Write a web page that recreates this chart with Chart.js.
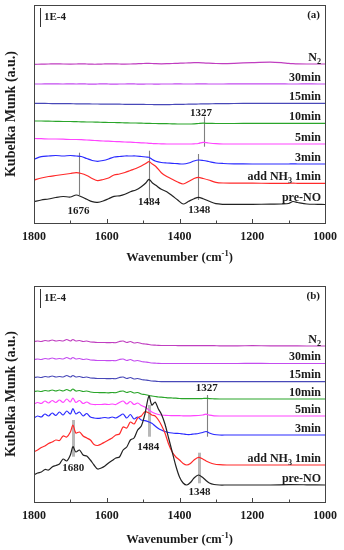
<!DOCTYPE html>
<html>
<head>
<meta charset="utf-8">
<script src="https://cdn.jsdelivr.net/npm/chart.js@4.4.1/dist/chart.umd.min.js"></script>
<style>
    body { margin: 0; background: #fff; }
    .panel { position: absolute; left: 0; width: 344px; height: 275px; }
</style>
</head>
<body>
<div class="panel" style="top:0"><canvas id="chartA"></canvas></div>
<div class="panel" style="top:275px"><canvas id="chartB"></canvas></div>
<script>
// wavenumber grids (cm-1)
const wnA = [1800,1780,1760,1740,1720,1700,1684,1670,1655,1640,1625,1610,1595,1580,1565,1550,1535,1520,1505,1492,1484,1475,1465,1450,1435,1420,1405,1390,1375,1360,1348,1335,1320,1300,1280,1250,1200,1150,1120,1100,1088,1075,1050,1020,1000];
const wnB = [1800,1790,1780,1770,1760,1750,1740,1730,1720,1710,1700,1693,1685,1675,1665,1655,1645,1635,1625,1615,1605,1595,1585,1575,1565,1555,1545,1535,1525,1515,1505,1495,1484,1476,1467,1458,1450,1440,1430,1420,1410,1400,1390,1380,1370,1360,1348,1336,1327,1318,1305,1290,1270,1240,1200,1150,1100,1050,1000];
const xTicks = [1800, 1600, 1400, 1200, 1000];

const seriesNames = ['pre-NO', 'add NH_3 1min', '3min', '5min', '10min', '15min', '30min', 'N_2'];
const seriesColors = ['#222222', '#ff2a2a', '#2a2aff', '#ff44ff', '#2aa52a', '#4848b8', '#c44cf0', '#c03ec0'];

// panel (a), stacked Kubelka-Munk values (a.u., offset included)
const preNO_A = [20.3,22,23,24.5,25.5,25,27,25.3,22.7,20.3,19.7,21,23.3,25.7,26.2,27.7,30.3,32,35.3,39.3,42.7,39.3,36.7,32.7,30.3,26.3,22,18,20.7,23.3,24.7,23.3,21,18.3,17.7,17.7,17.7,17.8,18,18.5,20.5,19.5,18,17.7,17.5];
const nh3_A = [42,44,45.5,46.5,47.5,48.5,49.3,48.5,46.5,43.5,41.3,42.5,44,47,48,49.5,51.5,53.5,56,58.7,60.3,58,55.5,49.3,45.5,42.7,40,38,40.5,43.5,44.7,43.5,42,39.7,39,38.8,38.8,38.7,38.7,38.7,38.8,38.7,38.7,38.7,38.7];
const min3_A = [62.7,65.3,66,66.5,66,66.5,66,65.5,63.5,61.5,60.7,61.5,63,65,65.5,66,66,66,65.5,65,64.7,62.5,60.7,59.5,59,58.7,58.3,58,59,61,62,61.5,60.5,59,58.5,58.2,58,58,58,58,58.2,58,58,58,58];
const min5_A = [83.5,83.3,83,83,82.8,82.5,82.5,82.3,82,81.7,81.3,81,80.8,80.5,80.3,80,79.8,79.5,79.2,79,78.7,78.5,78.3,78.2,78,78,78,78,78,78.2,78.5,79.7,79,78.3,78,78,78,78,78,78,78,78,78,78,78];
const min10_A = [101,101,100.8,100.7,100.5,100.5,100.3,100.2,100,100,99.8,99.7,99.5,99.5,99.3,99.2,99,99,98.8,98.7,98.6,98.5,98.5,98.4,98.3,98.2,98,98,98,98.2,98.5,98.8,98.6,98.5,98.5,98.5,98.6,98.7,98.7,98.7,98.7,98.7,98.7,98.7,98.7];
const min15_A = [118.7,118.6,118.5,118.4,118.3,118.3,118.2,118.2,118.1,118,118,117.9,117.9,117.8,117.8,117.7,117.7,117.6,117.6,117.5,117.5,117.5,117.4,117.4,117.4,117.5,117.6,117.7,117.8,117.9,118,118.1,118.2,118.3,118.4,118.5,118.6,118.6,118.7,118.7,118.7,118.6,118.6,118.7,118.7];
const min30_A = [138,138,138.2,138.1,138,138.2,138,138.1,138,137.9,138,138.1,138,137.9,138,138,138.1,138,137.9,138,138,138,137.9,138,138,138,138.1,138,138,138,138.2,138.1,138,138,138,138.1,138.2,138.2,138.1,138,138,138,138.1,138,138];
const n2_A = [157.7,157.8,158,158.2,158,157.9,158,158.2,158,157.8,157.8,158,158.2,158.1,158,157.9,158,158.2,158.4,158.6,158.6,158.5,158.3,158.2,158.3,158.5,158.7,158.9,159.1,159.3,159.3,159.1,158.8,158.5,158.4,158.7,159.4,159.8,159.3,158.6,158.3,158.1,158,158,158];

// panel (b)
const preNO_B = [27,29,30,32.5,32,35,36.5,38,43,41,47,55.3,50,52,47,46,42,37,33,34,36,39,41.5,44,45,52,55,62,64,72,76,88,106,97,100,93,88,78,64,50,36,25,19,17,19.5,24,27,24.5,21.5,19,17.5,17,17,17,17,17,17.3,17.2,17];
const nh3_B = [50.3,52,54.5,56,58.5,60,62,61.5,66,65,70,77,69,70,66,64,62,57.5,56.5,58,60,62,64,67,68,75,74,80,78,84,86,90.3,89,87,86,82,77,69,58,50,45,42,38.5,37,38.5,42,44.7,43,41,39.5,38,37.3,37,37,37,37,37,37,37];
const min3_B = [84,86,85,88,86,89,86.5,90,87,91,88,93.5,88,90,86,88.5,85,84,83.7,84,84.5,84,85,84,86,88,84,87.5,83,85,82,81.3,80,78.7,76,73.5,72,70.5,69.5,69,68.7,68.5,68,67.5,67.5,68,68.5,69.5,70.5,69,67.5,67,67,67,67,67,67,67,67];
const min5_B = [98,99.5,98.5,101,99,101.5,99.5,102,99.5,103,100,104,99.5,101.5,98.5,100,98,97.5,97.5,97.5,97.8,97.5,98,97.5,99.5,101,98,100.5,97.5,99,96.5,95,92,90,88.5,87.5,87,86.7,86.5,86.4,86.3,86.3,86.2,86.2,86.2,86.3,86.5,87,87.8,86.8,86.2,86,86,86,86,86,86,86,86];
const min10_B = [110.5,111,110.5,111.5,111,112,111,112,111,112.5,111,113,111,111.5,110.5,111,110,109.5,109.5,109.3,109.3,109.2,109.5,109.3,110.5,111,109.5,110.5,109,109.5,108,107.5,106.5,106,105.5,105,104.8,104.5,104.2,104,103.8,103.5,103.3,103.3,103.3,103.3,103.3,103.5,103.7,103.4,103.2,103,103,103,103,103,103,103,103];
const min15_B = [124.5,125,124.5,125.5,125,126,125,125.5,125,126.5,125,126.5,125,125.5,124.5,125,124,123.8,123.5,123.5,123.5,123.3,123.5,123.3,124.5,125,123.5,124.5,123,123.5,122.5,122,121.5,121,120.8,120.5,120.4,120.4,120.3,120.3,120.3,120.3,120.3,120.3,120.3,120.3,120.3,120.4,120.4,120.3,120.3,120.3,120.3,120.3,120.4,120.3,120.3,120.3,120.3];
const min30_B = [142.5,143,142.5,143.5,143,144,143,143.5,143,144.5,143,144.5,143,143.5,142.5,143,142,141.8,141.5,141.5,141.5,141.3,141.5,141.3,142.5,143,141.5,142.5,141,141.5,140.5,140,139.5,139,138.8,138.6,138.5,138.5,138.5,138.5,138.5,138.5,138.5,138.5,138.5,138.5,138.5,138.5,138.5,138.5,138.5,138.5,138.5,138.5,138.6,138.5,138.5,138.5,138.5];
const n2_B = [160.5,161,160.5,161.5,161,162,161,161.5,161,162.5,161,162.5,161,161.5,160.5,161,160,159.8,159.5,159.5,159.5,159.3,159.5,159.3,160.5,161,159.5,160.5,159,159.5,158.5,158,157.5,157,156.8,156.6,156.5,156.5,156.5,156.5,156.5,156.4,156.4,156.4,156.4,156.3,156.3,156.3,156.3,156.3,156.3,156.2,156.2,156.2,156.3,156.2,156.1,156,156];

// peak markers: wavenumber of line, y range, label position
const marksA = [
    { at: 1675, from: 27, to: 69.3, textAt: 1678, textY: 11, text: '1676' },
    { at: 1484, from: 23, to: 71.3, textAt: 1484, textY: 20.3, text: '1484' },
    { at: 1348, from: 22, to: 68, textAt: 1346, textY: 12, text: '1348' },
    { at: 1333, from: 75.3, to: 105.3, textAt: 1341, textY: 109.3, text: '1327' }
];
const marksB = [
    { at: 1692, from: 45.3, to: 82, textAt: 1692, textY: 33.7, text: '1680', thick: true },
    { at: 1484, from: 65.3, to: 97, textAt: 1486, textY: 55.3, text: '1484', thick: true },
    { at: 1346, from: 18.7, to: 49.3, textAt: 1345, textY: 10.3, text: '1348', thick: true },
    { at: 1325, from: 65.3, to: 107, textAt: 1325, textY: 114.3, text: '1327' }
];

const ink = '#1b1b1b';
const serif = '"Liberation Serif", "Times New Roman", serif';
Chart.defaults.font.family = serif;

// text with _x subscript and ^x superscript, right or centre aligned
function richText(ctx, text, x, yBase, size, align) {
    let parts = [], buf = '';
    for (let i = 0; i < text.length; i++) {
        let c = text[i];
        if ((c === '_' || c === '^') && i + 1 < text.length) {
            if (buf) parts.push({ t: buf, k: 0 });
            buf = '';
            parts.push({ t: text[i + 1], k: c === '_' ? 1 : -1 });
            i++;
        } else buf += c;
    }
    if (buf) parts.push({ t: buf, k: 0 });
    const fontOf = p => `bold ${p.k ? size * 0.68 : size}px ${serif}`;
    let w = 0;
    parts.forEach(p => { ctx.font = fontOf(p); w += ctx.measureText(p.t).width; });
    let cx = align === 'center' ? x - w / 2 : x - w;
    ctx.textAlign = 'left';
    ctx.textBaseline = 'alphabetic';
    parts.forEach(p => {
        ctx.font = fontOf(p);
        let dy = p.k === 1 ? size * 0.28 : (p.k === -1 ? -size * 0.42 : 0);
        ctx.fillText(p.t, cx, yBase + dy);
        cx += ctx.measureText(p.t).width;
    });
}

const decor = {
    id: 'decor',
    beforeDatasetsDraw(chart, args, opts) {
        const { ctx, scales: { x, y } } = chart;
        ctx.save();
        opts.marks.forEach(m => {
            ctx.strokeStyle = m.thick ? '#b8b8b8' : '#808080';
            ctx.lineWidth = m.thick ? 3 : 1.1;
            let px = Math.round(x.getPixelForValue(m.at)) + 0.5;
            ctx.beginPath();
            ctx.moveTo(px, y.getPixelForValue(m.from));
            ctx.lineTo(px, y.getPixelForValue(m.to));
            ctx.stroke();
        });
        ctx.restore();
    },
    afterDraw(chart, args, opts) {
        const { ctx, chartArea: a, scales: { x, y } } = chart;
        ctx.save();
        ctx.fillStyle = ink;

        // peak numbers
        ctx.font = `bold 11px ${serif}`;
        ctx.textAlign = 'center';
        ctx.textBaseline = 'middle';
        opts.marks.forEach(m => {
            ctx.fillText(m.text, x.getPixelForValue(m.textAt), y.getPixelForValue(m.textY));
        });

        // trace names at the right end
        chart.data.datasets.forEach(ds => {
            let last = ds.data[ds.data.length - 1];
            richText(ctx, ds.label, a.right - 4, y.getPixelForValue(last.y) - 3.5, 12, 'right');
        });

        // frame and inward ticks
        ctx.strokeStyle = '#444';
        ctx.lineWidth = 1;
        ctx.strokeRect(Math.round(a.left) + 0.5, Math.round(a.top) + 0.5, Math.round(a.width), Math.round(a.height));
        for (let w = 1800; w >= 1000; w -= 100) {
            let px = Math.round(x.getPixelForValue(w)) + 0.5;
            let len = w % 200 === 0 ? 4 : 2.5;
            ctx.beginPath();
            ctx.moveTo(px, a.bottom);
            ctx.lineTo(px, a.bottom - len);
            ctx.stroke();
        }

        // scale bar
        ctx.strokeStyle = '#333';
        ctx.beginPath();
        ctx.moveTo(a.left + 6.5, a.top + 3);
        ctx.lineTo(a.left + 6.5, a.top + 22);
        ctx.stroke();
        ctx.font = `bold 11px ${serif}`;
        ctx.textAlign = 'left';
        ctx.textBaseline = 'middle';
        ctx.fillText('1E-4', a.left + 10, a.top + 12);

        // panel letter
        ctx.textAlign = 'right';
        ctx.fillText(opts.letter, a.right - 5, a.top + 10);

        // axis titles
        richText(ctx, 'Wavenumber (cm^-^1)', (a.left + a.right) / 2, a.bottom + opts.titleGap, 12.5, 'center');
        ctx.translate(11, (a.top + a.bottom) / 2);
        ctx.rotate(-Math.PI / 2);
        ctx.font = `bold 14px ${serif}`;
        ctx.textAlign = 'center';
        ctx.textBaseline = 'middle';
        ctx.fillText('Kubelka Munk (a.u.)', 0, 0);
        ctx.restore();
    }
};

function makeChart(id, wn, series, cfg) {
    let datasets = series.map((vals, i) => ({
        label: seriesNames[i],
        data: wn.map((w, j) => ({ x: w, y: vals[j] })),
        borderColor: seriesColors[i],
        borderWidth: 1.2,
        pointRadius: 0,
        tension: 0.3,
        fill: false
    }));
    return new Chart(document.getElementById(id), {
        type: 'line',
        data: { datasets: datasets },
        options: {
            responsive: true,
            maintainAspectRatio: false,
            animation: false,
            devicePixelRatio: 1,
            layout: { padding: cfg.padding, autoPadding: false },
            plugins: {
                legend: { display: false },
                tooltip: { enabled: false },
                decor: { marks: cfg.marks, letter: cfg.letter, titleGap: cfg.titleGap }
            },
            scales: {
                x: {
                    type: 'linear',
                    reverse: true,
                    min: 1000,
                    max: 1800,
                    afterBuildTicks: s => { s.ticks = xTicks.map(v => ({ value: v })); },
                    afterFit: s => { s.height = 28; },
                    grid: { display: false, drawTicks: false },
                    border: { display: false },
                    ticks: {
                        padding: 7, color: ink, font: { size: 12, weight: 'bold' }, maxRotation: 0,
                        callback: v => String(v)
                    }
                },
                y: { display: false, min: cfg.yMin, max: cfg.yMax }
            }
        },
        plugins: [decor]
    });
}

makeChart('chartA', wnA, [preNO_A, nh3_A, min3_A, min5_A, min10_A, min15_A, min30_A, n2_A], {
    padding: { left: 34, right: 15, top: 5, bottom: 24 },
    yMin: -1, yMax: 217, marks: marksA, letter: '(a)', titleGap: 38
});
makeChart('chartB', wnB, [preNO_B, nh3_B, min3_B, min5_B, min10_B, min15_B, min30_B, n2_B], {
    padding: { left: 34, right: 15, top: 11, bottom: 20 },
    yMin: 0, yMax: 216, marks: marksB, letter: '(b)', titleGap: 41
});
</script>
</body>
</html>
